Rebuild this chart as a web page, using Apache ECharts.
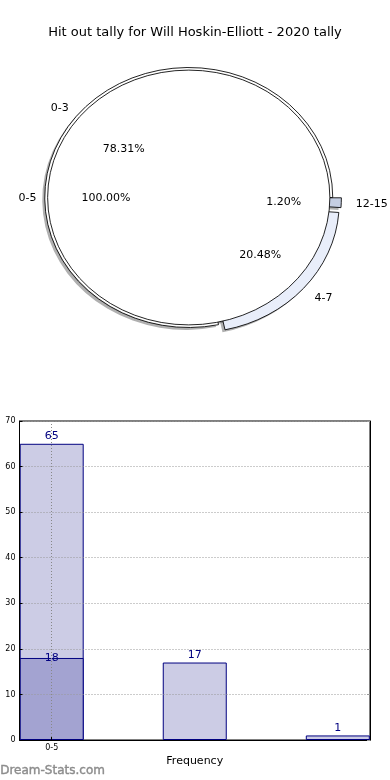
<!DOCTYPE html>
<html>
<head>
<meta charset="utf-8">
<script src="https://cdn.jsdelivr.net/npm/echarts@6/dist/echarts.min.js"></script>
<style>
html,body{margin:0;padding:0;background:#fff;}
#c{width:390px;height:780px;}
</style>
</head>
<body>
<div id="c"></div>
<script>
// ---- data ----
const titleText = 'Hit out tally for Will Hoskin-Elliott - 2020 tally';
const outerCats = ['0-3', '4-7', '12-15'];
const outerVals = [65, 17, 1];
const innerCats = ['0-5'];
const innerVals = [18];
const barVals = [65, 17, 1];
const barVals2 = [18];
const xTickLabels = ['0-5'];
const xAxisName = 'Frequency';
const watermark = 'Dream-Stats.com';

// ---- pie geometry / style ----
const CX = 188.75, CY = 197.5, RX = 144, RY = 130;
const outerStyle = { r: 1.0, explode: [0, 0.06, 0.06], colors: ['#ffffff', '#e9eefa', '#c5cee2'], cats: outerCats };
const innerStyle = { r: 0.98, explode: [0], colors: ['#ffffff'], cats: innerCats };

function buildSlices(vals, cats) {
  const total = vals.reduce((a, b) => a + b, 0);
  let cum = 0;
  return vals.map((v, i) => {
    const a1 = cum / total * 360;
    cum += v;
    const a2 = cum / total * 360;
    return { name: cats[i], value: [v, a1, a2, v / total * 100] };
  });
}
const outerData = buildSlices(outerVals, outerCats);
const innerData = buildSlices(innerVals, innerCats);

function geom(api, idx, cfg) {
  const a1 = api.value(1) * Math.PI / 180, a2 = api.value(2) * Math.PI / 180;
  const mid = (a1 + a2) / 2;
  const e = cfg.explode[idx] || 0;
  return { a1, a2, mid, e, dx: e * RX * Math.cos(mid), dy: -e * RY * Math.sin(mid) };
}
function wedgeItem(cfg, shadow) {
  return function (params, api) {
    const g = geom(api, params.dataIndex, cfg);
    return {
      type: 'sector',
      x: g.dx + (shadow ? -2.5 : 0),
      y: g.dy + (shadow ? 2.4 : 0),
      originX: CX, originY: CY, scaleY: RY / RX,
      shape: { cx: CX, cy: CY, r: cfg.r * RX, r0: 0, startAngle: -g.a2, endAngle: -g.a1, clockwise: true },
      style: shadow
        ? { fill: 'rgba(80,80,80,0.45)', stroke: null }
        : { fill: cfg.colors[params.dataIndex], stroke: '#000', lineWidth: 0.9, strokeNoScale: true }
    };
  };
}
function labelItem(cfg) {
  return function (params, api) {
    const g = geom(api, params.dataIndex, cfg);
    const c = Math.cos(g.mid), s = Math.sin(g.mid);
    const lx = CX + (1.1 * cfg.r + g.e) * RX * c, ly = CY - (1.1 * cfg.r + g.e) * RY * s;
    const px = CX + (0.6 * cfg.r + g.e) * RX * c, py = CY - (0.6 * cfg.r + g.e) * RY * s;
    const base = { fontSize: 11, fontFamily: 'DejaVu Sans', fill: '#000', verticalAlign: 'middle' };
    return {
      type: 'group',
      children: [
        { type: 'text', x: lx + (c < 0 ? 3 : 0), y: ly + 1, style: Object.assign({}, base, { text: String(cfg.cats[params.dataIndex]), align: c >= 0 ? 'left' : 'right' }) },
        { type: 'text', x: px + (c < 0 ? 2 : 0), y: py + 1, style: Object.assign({}, base, { text: api.value(3).toFixed(2) + '%', align: 'center' }) }
      ]
    };
  };
}

const chart = echarts.init(document.getElementById('c'), null, { renderer: 'canvas' });
const option = {
  animation: false,
  backgroundColor: '#fff',
  textStyle: { fontFamily: 'DejaVu Sans' },
  title: {
    text: titleText, left: 'center', top: 21,
    textStyle: { fontSize: 13, fontWeight: 'normal', color: '#000', fontFamily: 'DejaVu Sans' }
  },
  graphic: [{
    type: 'text', left: 0, bottom: 3,
    style: { text: watermark, fill: '#8c8c8c', stroke: '#8c8c8c', lineWidth: 0.4, font: '12px DejaVu Sans' }
  }],
  grid: {
    left: 19.5, right: 20, top: 421, bottom: 40,
    show: true, borderColor: '#000', borderWidth: 1, backgroundColor: 'transparent'
  },
  xAxis: {
    type: 'value', min: -0.225, max: 2.225, z: 5,
    name: xAxisName, nameLocation: 'middle', nameGap: 16,
    nameTextStyle: { fontSize: 11, color: '#000' },
    axisLine: { show: true, onZero: false, lineStyle: { color: '#000' } },
    axisTick: { show: true, inside: true, length: 3, customValues: [0], lineStyle: { color: '#000' } },
    axisLabel: { show: true, fontSize: 8, color: '#000', margin: 4, customValues: [0], formatter: (v) => (Math.abs(v) < 1e-9 ? xTickLabels[0] : '') },
    splitLine: { show: false }
  },
  yAxis: [{
    type: 'value', min: 0, max: 70, interval: 10, z: 5,
    axisLine: { show: true, onZero: false, lineStyle: { color: '#000' } },
    axisTick: { show: true, inside: true, length: 3, lineStyle: { color: '#000' } },
    axisLabel: { fontSize: 8, color: '#000', margin: 4 },
    splitLine: { show: true, lineStyle: { type: [1, 2], color: '#999', width: 1 } }
  }, {
    type: 'value', min: 0, max: 70, interval: 10, position: 'right', z: 5,
    axisLine: { show: true, onZero: false, lineStyle: { color: '#000' } },
    axisTick: { show: true, inside: true, length: 3, lineStyle: { color: '#999' } },
    axisLabel: { show: false },
    splitLine: { show: false }
  }],
  series: [
    { type: 'custom', coordinateSystem: 'none', z: 1, silent: true, data: outerData, renderItem: wedgeItem(outerStyle, true) },
    { type: 'custom', coordinateSystem: 'none', z: 1, silent: true, data: innerData, renderItem: wedgeItem(innerStyle, true) },
    { type: 'custom', coordinateSystem: 'none', z: 2, silent: true, data: outerData, renderItem: wedgeItem(outerStyle, false) },
    { type: 'custom', coordinateSystem: 'none', z: 3, silent: true, data: innerData, renderItem: wedgeItem(innerStyle, false) },
    { type: 'custom', coordinateSystem: 'none', z: 10, silent: true, data: outerData, renderItem: labelItem(outerStyle) },
    { type: 'custom', coordinateSystem: 'none', z: 10, silent: true, data: innerData, renderItem: labelItem(innerStyle) },
    {
      type: 'bar', xAxisIndex: 0, yAxisIndex: 0, barWidth: 64, barGap: '-100%',
      data: barVals.map((v, i) => [i, v]),
      itemStyle: { color: '#ccccE5', borderColor: '#000080', borderWidth: 1 },
      label: { show: true, position: 'top', distance: 2, color: '#000080', fontSize: 11, formatter: (p) => p.value[1] }
    },
    {
      type: 'bar', xAxisIndex: 0, yAxisIndex: 0, barWidth: 64, barGap: '-100%',
      data: barVals2.map((v, i) => [i, v]),
      itemStyle: { color: '#a3a3d1', borderColor: '#000080', borderWidth: 1 },
      label: { show: true, position: 'top', distance: -6, color: '#000080', fontSize: 11, formatter: (p) => p.value[1] },
      markLine: {
        silent: true, symbol: ['none', 'none'], label: { show: false },
        lineStyle: { type: [1, 2], color: '#888', width: 1 },
        emphasis: { disabled: true },
        data: [{ xAxis: 0 }]
      }
    }
  ]
};
chart.setOption(option);
</script>
</body>
</html>
